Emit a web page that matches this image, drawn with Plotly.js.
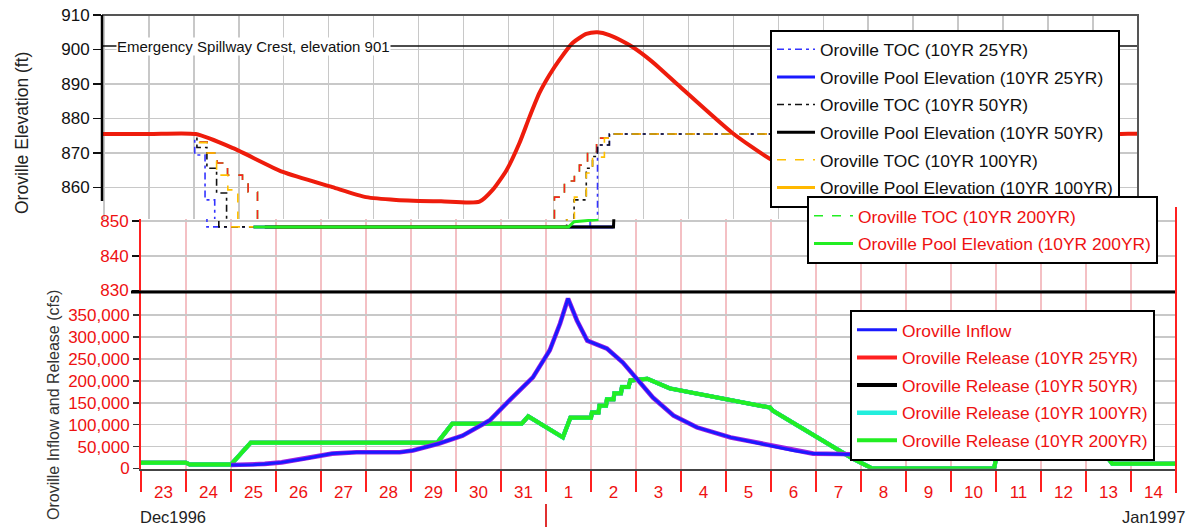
<!DOCTYPE html>
<html><head><meta charset="utf-8">
<script src="https://cdn.plot.ly/plotly-3.0.1.min.js"></script>
<style>html,body{margin:0;padding:0;background:#fff;}#chart{width:1189px;height:527px;}</style>
</head><body><div id="chart"></div>
<script>
// ---------------- Elevation data (ft) ----------------
const poolRedTime = ['1996-12-21 12:00','1996-12-23 00:00','1996-12-24 01:00','1996-12-24 21:00','1996-12-25 23:30','1996-12-27 02:00','1996-12-27 20:00','1996-12-28 12:00','1996-12-29 12:00','1996-12-30 08:30','1996-12-30 15:30','1996-12-30 23:00','1996-12-31 05:50','1996-12-31 11:10','1996-12-31 16:30','1996-12-31 21:50','1997-01-01 03:10','1997-01-01 10:10','1997-01-01 17:30','1997-01-01 23:30','1997-01-02 05:50','1997-01-02 16:30','1997-01-03 01:40','1997-01-03 08:40','1997-01-03 19:10','1997-01-04 23:30','1997-01-05 19:00','1997-01-06 18:00','1997-01-08 12:00','1997-01-10 12:00','1997-01-12 06:00','1997-01-13 06:00','1997-01-13 14:00','1997-01-14 06:00','1997-01-15 00:00'];
const poolRedElev = [875.5,875.5,875.5,871.4,864.5,860.1,857.2,856.4,856.0,855.9,859.3,865.1,872.9,880.4,887.4,892.6,897.0,901.9,904.5,905.0,904.2,901.3,897.8,894.6,889.4,875.8,868.5,862.5,859.5,863.0,868.0,874.0,875.5,875.5,875.5];

const tocRedTime = ['1996-12-21 12:00','1996-12-24 01:30','1996-12-24 07:10','1996-12-24 12:30','1996-12-24 18:00','1996-12-25 02:00','1996-12-25 05:00','1996-12-25 10:00','1997-01-01 00:30','1997-01-01 05:50','1997-01-01 11:10','1997-01-01 13:50','1997-01-01 18:10','1997-01-01 23:00','1997-01-02 07:00','1997-01-15 00:00'];
const tocRedElev = [875.5,873.2,870.0,867.1,863.6,861.3,858.7,848.3,857.2,861.9,864.5,866.5,870.3,874.3,875.5,875.5];

const toc25Time = ['1996-12-21 12:00','1996-12-24 00:30','1996-12-24 06:00','1996-12-24 11:10','1997-01-01 23:30','1997-01-02 05:50','1997-01-15 00:00'];
const toc25Elev = [875.5,869.4,856.4,848.3,872.3,875.5,875.5];

const toc50Time = ['1996-12-21 12:00','1996-12-24 01:40','1996-12-24 07:00','1996-12-24 12:10','1996-12-24 17:30','1997-01-01 11:00','1997-01-01 17:30','1997-01-01 20:50','1997-01-01 23:30','1997-01-02 05:50','1997-01-15 00:00'];
const toc50Elev = [875.5,871.6,865.6,858.4,848.3,856.4,865.6,869.0,872.3,875.5,875.5];

const toc100Time = ['1996-12-21 12:00','1996-12-24 01:40','1996-12-24 07:00','1996-12-24 12:10','1996-12-24 18:10','1996-12-24 23:30','1997-01-01 11:10','1997-01-01 17:30','1997-01-01 20:50','1997-01-02 03:10','1997-01-02 06:30','1997-01-15 00:00'];
const toc100Elev = [875.5,873.0,870.0,863.6,859.3,848.3,857.2,864.2,868.8,874.3,875.5,875.5];

// 200YR TOC coincides with the red dashed guide curve (drawn beneath it)
const toc200Time = tocRedTime;
const toc200Elev = tocRedElev;

const pool25Time = ['1996-12-25 12:00','1997-01-02 12:00'];
const pool25Elev = [848.3,848.3];
const pool50Time = ['1996-12-25 18:00','1997-01-02 12:00','1997-01-02 12:10'];
const pool50Elev = [848.3,848.3,850.5];
const pool100Time = ['1996-12-26 00:00','1997-01-01 12:00'];
const pool100Elev = [848.3,848.3];
const pool200Time = ['1996-12-25 12:00','1997-01-01 12:00','1997-01-01 15:00','1997-01-02 04:00'];
const pool200Elev = [848.3,848.3,849.8,850.4];

// ---------------- Flow data (cfs) ----------------
const inflowTime = ['1996-12-25 00:00','1996-12-25 12:00','1996-12-25 18:00','1996-12-26 03:00','1996-12-26 16:00','1996-12-27 06:00','1996-12-27 19:00','1996-12-28 18:00','1996-12-29 01:00','1996-12-29 15:00','1996-12-30 03:30','1996-12-30 18:00','1996-12-31 06:00','1996-12-31 17:00','1997-01-01 02:00','1997-01-01 07:30','1997-01-01 11:45','1997-01-01 16:30','1997-01-01 22:00','1997-01-02 08:30','1997-01-02 17:00','1997-01-03 00:30','1997-01-03 09:00','1997-01-03 20:00','1997-01-04 08:30','1997-01-05 02:30','1997-01-06 05:00','1997-01-06 12:00','1997-01-06 22:30','1997-01-07 13:00','1997-01-08 12:00','1997-01-10 00:00'];
const inflowCfs = [8000,8500,10500,14000,23000,34000,37000,37000,41000,57000,75000,110000,162000,208000,270000,331000,388000,338000,292000,274000,242000,205000,162000,121000,94000,71000,48000,41000,34000,33000,30000,27000];

const releaseTime = ['1996-12-23 00:00','1996-12-24 00:00','1996-12-24 02:00','1996-12-25 00:00','1996-12-25 10:30','1996-12-29 14:00','1996-12-29 22:00','1996-12-31 11:00','1996-12-31 14:30','1997-01-01 09:00','1997-01-01 13:00','1997-01-02 00:00','1997-01-02 00:30','1997-01-02 04:00','1997-01-02 04:30','1997-01-02 08:00','1997-01-02 08:30','1997-01-02 12:00','1997-01-02 12:30','1997-01-02 16:00','1997-01-02 16:30','1997-01-02 20:00','1997-01-02 21:00','1997-01-03 06:00','1997-01-03 18:00','1997-01-05 23:30','1997-01-06 01:00','1997-01-07 19:30','1997-01-08 06:00','1997-01-10 23:00','1997-01-11 00:00','1997-01-13 12:00','1997-01-13 14:00','1997-01-15 00:00'];
const release200Cfs = [13000,13000,9000,9000,59000,59000,102000,102000,119000,71000,116000,116000,128000,128000,143000,143000,158000,158000,172000,172000,186000,186000,201000,205000,183000,139000,132000,23000,0,0,22000,22000,11000,11000];
// the other release scenarios coincide with the 200YR release in the picture
const release25Cfs = release200Cfs;
const release50Cfs = release200Cfs;
const release100Cfs = release200Cfs;

const dayLabels = ['23','24','25','26','27','28','29','30','31','1','2','3','4','5','6','7','8','9','10','11','12','13','14'];
const flowTicks = [0,50000,100000,150000,200000,250000,300000,350000];

// ---------------- helpers ----------------
const W = 1189, H = 527;
const P = x => x / W;
const Q = y => 1 - y / H;
function dayStr(i, hour) {
  const d = new Date(Date.UTC(1996, 11, 23 + i, hour));
  const p = n => String(n).padStart(2, '0');
  return d.getUTCFullYear() + '-' + p(d.getUTCMonth() + 1) + '-' + p(d.getUTCDate()) + ' ' + p(d.getUTCHours()) + ':00';
}
const noonVals = dayLabels.map((_, i) => dayStr(i, 12));
const midnightVals = dayLabels.map((_, i) => dayStr(i, 0)).concat([dayStr(dayLabels.length, 0)]);

const FONT = 'Liberation Sans, Arial, sans-serif';
const traces = [];

function elev(name, t, v, color, width, dash, shape, legend, rank, show) {
  const g = name + '_' + color;
  const ln = {color: color, width: width, dash: dash, shape: shape};
  if (shape === 'spline') ln.smoothing = 0.6;
  traces.push({x: t, y: v, xaxis: 'x', yaxis: 'y', type: 'scatter', mode: 'lines', name: name,
    line: ln, legend: legend, legendrank: rank, showlegend: show, legendgroup: g, hoverinfo: 'skip'});
  traces.push({x: t, y: v, xaxis: 'x2', yaxis: 'y2', type: 'scatter', mode: 'lines', name: name,
    line: ln, showlegend: false, legendgroup: g, hoverinfo: 'skip'});
}
const DD = '7px,4px,3px,4px';
elev('Oroville TOC (10YR 200YR)', toc200Time, toc200Elev, '#22ee22', 1.6, 'dash', 'hv', 'legend2', 7, true);
elev('red TOC', tocRedTime, tocRedElev, '#ff2020', 1.6, 'dash', 'hv', 'legend', 99, false);
elev('Oroville TOC (10YR 25YR)', toc25Time, toc25Elev, '#3333ff', 1.6, DD, 'hv', 'legend', 1, true);
elev('Oroville TOC (10YR 50YR)', toc50Time, toc50Elev, '#111111', 1.6, DD, 'hv', 'legend', 3, true);
elev('Oroville TOC (10YR 100YR)', toc100Time, toc100Elev, '#ffc000', 1.6, 'dash', 'hv', 'legend', 5, true);
elev('Oroville Pool Elevation (10YR 25YR)', pool25Time, pool25Elev, '#1a1aff', 3, 'solid', 'linear', 'legend', 2, true);
elev('Oroville Pool Elevation (10YR 100YR)', pool100Time, pool100Elev, '#ffb800', 3, 'solid', 'linear', 'legend', 6, true);
elev('Oroville Pool Elevation (10YR 50YR)', pool50Time, pool50Elev, '#000000', 3, 'solid', 'linear', 'legend', 4, true);
elev('Oroville Pool Elevation (10YR 200YR)', pool200Time, pool200Elev, '#22ee22', 3, 'solid', 'linear', 'legend2', 8, true);
elev('Oroville Pool Elevation', poolRedTime, poolRedElev, '#ee1c0c', 4, 'solid', 'spline', 'legend', 100, false);

function flow(name, t, v, color, width, rank, show) {
  traces.push({x: t, y: v, xaxis: 'x3', yaxis: 'y3', type: 'scatter', mode: 'lines', name: name,
    line: {color: color, width: width}, legend: 'legend3', legendrank: rank, showlegend: show,
    legendgroup: name, hoverinfo: 'skip'});
}
flow('Oroville Release (10YR 25YR)', releaseTime, release25Cfs, '#ff2020', 4, 2, true);
flow('Oroville Release (10YR 50YR)', releaseTime, release50Cfs, '#000000', 4, 3, true);
flow('Oroville Release (10YR 100YR)', releaseTime, release100Cfs, '#22eedd', 4.5, 4, true);
flow('Oroville Release (10YR 200YR)', releaseTime, release200Cfs, '#22ee22', 4, 5, true);
flow('inflow edge', inflowTime, inflowCfs, '#a020e0', 4.6, 99, false);
flow('Oroville Inflow', inflowTime, inflowCfs, '#1a1aff', 3, 1, true);

const GRID = '#c8c8c8', PINK = '#f4c0c4', RED = '#ee1111';
const FS = 17;
const legendBase = {xanchor: 'left', yanchor: 'top', bgcolor: '#ffffff', bordercolor: '#000000', borderwidth: 2,
  tracegroupgap: 2, font: {family: FONT, size: 17.4, color: RED}, itemclick: false, itemdoubleclick: false};

const layout = {
  width: W, height: H, autosize: false,
  margin: {l: 0, r: 0, t: 0, b: 0, pad: 0},
  paper_bgcolor: '#ffffff', plot_bgcolor: '#ffffff',
  font: {family: FONT, size: FS, color: '#111'},
  showlegend: true,
  xaxis: {domain: [P(102), P(1138)], anchor: 'y', type: 'date',
    range: ['1996-12-21 23:00', '1997-01-14 00:00'], tickmode: 'linear', tick0: '1996-12-23', dtick: 86400000,
    showticklabels: false, ticks: '', showgrid: true, gridcolor: GRID, gridwidth: 1.5, zeroline: false, showline: false},
  yaxis: {domain: [Q(219), Q(15)], anchor: 'x', range: [850.87, 910], tickmode: 'array',
    tickvals: [860, 870, 880, 890, 900, 910], ticks: 'outside', ticklen: 8, tickwidth: 1.5, tickcolor: '#111',
    tickfont: {size: FS, color: '#111'}, showgrid: true, gridcolor: GRID, gridwidth: 1.5, zeroline: false, showline: false},
  xaxis2: {domain: [P(141), P(1176)], anchor: 'y2', type: 'date',
    range: ['1996-12-23 00:00', '1997-01-15 00:00'], tickmode: 'linear', tick0: '1996-12-23', dtick: 86400000,
    showticklabels: false, ticks: '', showgrid: true, gridcolor: PINK, gridwidth: 1.5, zeroline: false, showline: false},
  yaxis2: {domain: [Q(292), Q(219)], anchor: 'x2', range: [829.57, 850.58], tickmode: 'array',
    tickvals: [830, 840, 850], ticks: 'outside', ticklen: 7, tickwidth: 1.5, tickcolor: '#111',
    tickfont: {size: FS, color: RED}, showgrid: true, gridcolor: GRID, gridwidth: 1.5, zeroline: false,
    showline: true, linecolor: '#ff2020', linewidth: 2},
  xaxis3: {domain: [P(141), P(1176)], anchor: 'y3', type: 'date',
    range: ['1996-12-23 00:00', '1997-01-15 00:00'], tickmode: 'array', tickvals: noonVals, ticktext: dayLabels,
    ticks: '', showgrid: false, tickfont: {size: FS, color: RED}, ticklabelstandoff: 7,
    minor: {tickmode: 'array', tickvals: midnightVals, ticks: 'outside', ticklen: 21, tickwidth: 1.5,
      tickcolor: '#ff2020', showgrid: true, gridcolor: PINK, gridwidth: 1.5},
    zeroline: false, showline: true, linecolor: '#444', linewidth: 2},
  yaxis3: {domain: [Q(468.5), Q(292)], anchor: 'x3', range: [0, 403000], tickmode: 'array', tickvals: flowTicks,
    tickformat: ',d', ticks: 'outside', ticklen: 6, tickwidth: 1.5, tickcolor: '#333',
    tickfont: {size: FS, color: RED}, showgrid: true, gridcolor: GRID, gridwidth: 1.5, zeroline: false,
    showline: true, linecolor: '#ff2020', linewidth: 2},
  legend: Object.assign({}, legendBase, {x: P(770), y: Q(29.5), itemwidth: 38, font: {family: FONT, size: 17.4, color: '#111'}}),
  legend2: Object.assign({}, legendBase, {x: P(807), y: Q(196), itemwidth: 39}),
  legend3: Object.assign({}, legendBase, {x: P(850), y: Q(310), itemwidth: 40}),
  shapes: [
    {type: 'line', xref: 'paper', yref: 'y', x0: P(102), x1: P(1138), y0: 901, y1: 901, line: {color: '#111', width: 1.5}},
    {type: 'line', xref: 'paper', yref: 'paper', x0: P(102), x1: P(1139), y0: Q(15), y1: Q(15), line: {color: '#555', width: 2}},
    {type: 'line', xref: 'paper', yref: 'paper', x0: P(1138), x1: P(1138), y0: Q(15), y1: Q(205), line: {color: '#555', width: 2}},
    {type: 'line', xref: 'paper', yref: 'paper', x0: P(102), x1: P(102), y0: Q(15), y1: Q(201), line: {color: '#000', width: 2.5}},
    {type: 'line', xref: 'paper', yref: 'paper', x0: P(131), x1: P(1176), y0: Q(292), y1: Q(292), line: {color: '#000', width: 3}},
    {type: 'line', xref: 'paper', yref: 'paper', x0: P(1176), x1: P(1176), y0: Q(207), y1: Q(493), line: {color: '#ff2020', width: 2}},
    {type: 'line', xref: 'x3', yref: 'paper', x0: '1997-01-01 00:00', x1: '1997-01-01 00:00', y0: Q(504), y1: 0, line: {color: '#e03030', width: 2}}
  ],
  annotations: [
    {text: 'Emergency Spillway Crest, elevation 901', xref: 'paper', yref: 'y', x: P(116), y: 901, xanchor: 'left', yanchor: 'middle',
      showarrow: false, bgcolor: '#ffffff', borderpad: 0, font: {family: FONT, size: 15, color: '#111'}},
    {text: 'Oroville Elevation (ft)', xref: 'paper', yref: 'paper', x: P(22), y: Q(133), textangle: -90,
      showarrow: false, xanchor: 'center', yanchor: 'middle', font: {family: FONT, size: 17.5, color: '#222'}},
    {text: 'Oroville Inflow and Release (cfs)', xref: 'paper', yref: 'paper', x: P(53), y: Q(405), textangle: -90,
      showarrow: false, xanchor: 'center', yanchor: 'middle', font: {family: FONT, size: 16, color: '#333'}},
    {text: 'Dec1996', xref: 'paper', yref: 'paper', x: P(138), y: Q(517), xanchor: 'left', yanchor: 'middle',
      showarrow: false, font: {family: FONT, size: 16.5, color: '#222'}},
    {text: 'Jan1997', xref: 'paper', yref: 'paper', x: P(1187), y: Q(517), xanchor: 'right', yanchor: 'middle',
      showarrow: false, font: {family: FONT, size: 16.5, color: '#222'}}
  ]
};

Plotly.newPlot('chart', traces, layout, {staticPlot: true, displayModeBar: false});
</script>
</body></html>
